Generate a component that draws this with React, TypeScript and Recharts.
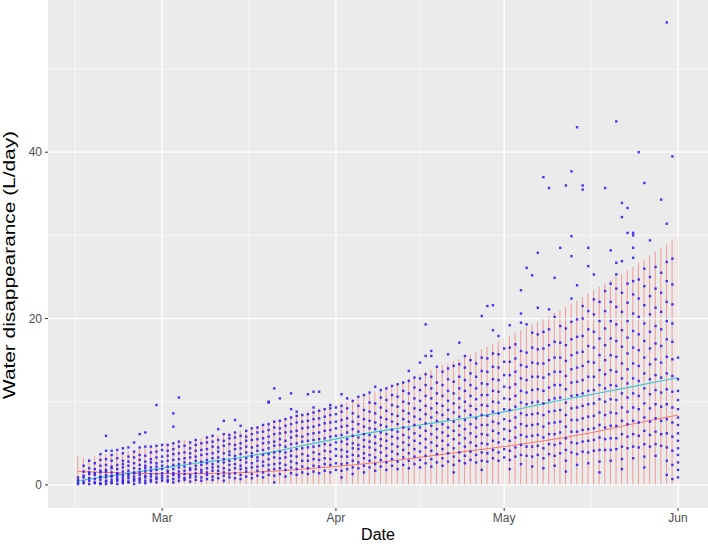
import {
  Bar,
  CartesianGrid,
  ComposedChart,
  Line,
  ReferenceLine,
  Scatter,
  XAxis,
  YAxis,
} from "recharts";

// day of year of the first measured day (Feb 14)
const firstDay = 45;

const monthTicks = [60, 91, 121, 152];
const monthLabels = ["Mar", "Apr", "May", "Jun"];
const minorDateLines = [44.5, 75.5, 106, 136.5];
const yTicks = [0, 20, 40];
const yMinorLines = [10, 30, 50];

// top of the red daily range (bottom is 0)
const upperBounds = [
  3.4, 3.3, 3.2, 3.5, 3.6, 3.7, 3.6, 3.9, 4.0, 4.1, 4.0, 4.3, 4.4, 4.5, 4.6, 4.9,
  5.0, 5.0, 5.2, 5.4, 5.3, 5.5, 5.6, 5.8, 5.9, 6.0, 6.1, 6.3, 6.4, 6.5, 6.6,
  6.8, 7.0, 7.2, 7.5, 7.6, 7.9, 8.1, 8.3, 8.4, 8.6, 8.9, 9.0, 9.2, 9.3, 9.6, 9.6,
  9.8, 10.0, 10.2, 10.5, 10.7, 11.0, 11.2, 11.5, 11.7, 12.0, 12.2, 12.5, 12.8, 13.1,
  13.3, 13.6, 13.8, 14.1, 14.4, 14.6, 14.9, 15.1, 15.4, 15.7, 16.0, 16.3, 16.6, 16.9, 17.2, 17.6,
  18.0, 18.3, 18.6, 19.0, 19.3, 19.6, 20.0, 20.3, 20.7, 21.0, 21.4, 21.8, 22.1, 22.6, 23.0,
  23.4, 23.8, 24.2, 24.6, 25.0, 25.4, 25.8, 26.2, 26.7, 27.1, 27.6, 28.0, 28.5, 28.9, 29.4, 29.9,
];

const trendDays = [0, 7, 14, 21, 28, 35, 42, 49, 56, 63, 70, 77, 84, 91, 98, 107];
const meanTrend = [0.5, 1.2, 1.9, 2.6, 3.2, 4.0, 5.0, 5.9, 6.7, 7.4, 8.1, 8.9, 9.9, 10.8, 11.7, 12.9];
const lowerTrend = [1.6, 1.45, 1.35, 1.35, 1.45, 1.65, 2.0, 2.4, 2.9, 3.5, 4.1, 4.7, 5.4, 6.2, 7.2, 8.4];

// one string of observed values per day, Feb 14 .. Jun 1
const dailyPoints = [
  "0.1 0.3 0.6 0.9",
  "0.2 0.4 0.9 1.1 1.6 2.3",
  "0.1 0.5 0.8 1.3 1.5 2.0 2.9",
  "0.2 0.3 0.7 1.2 1.4 1.9 2.6",
  "0.1 0.2 0.6 0.9 1.0 1.5 1.7 2.3 3.0 3.7",
  "0.1 0.4 0.5 0.9 1.2 1.6 1.8 2.4 3.1 4.1 5.9",
  "0.2 0.3 0.6 1.0 1.1 1.5 2.0 2.2 2.9 3.6 4.1",
  "0.1 0.5 0.7 1.0 1.3 1.4 1.9 2.4 3.2 4.2",
  "0.2 0.4 0.6 0.9 1.2 1.6 2.1 2.5 2.9 3.8 4.4",
  "0.3 0.4 0.8 1.1 1.3 1.7 2.3 2.8 3.4 4.5",
  "0.1 0.5 0.7 1.0 1.4 1.5 2.0 2.6 3.3 4.0 5.1",
  "0.3 0.6 0.8 1.2 1.5 1.9 2.4 3.0 3.6 4.5 6.1",
  "0.2 0.5 0.9 1.1 1.6 2.0 2.3 2.8 3.5 4.6 6.3",
  "0.4 0.6 1.0 1.3 1.7 2.1 2.7 3.1 3.9 4.6",
  "0.3 0.7 0.9 1.3 1.8 2.2 2.6 3.3 4.0 4.7 9.6",
  "0.5 0.8 1.1 1.4 1.9 2.3 2.8 3.4 4.2 4.8",
  "0.4 0.6 1.0 1.5 1.7 2.2 2.9 3.5 4.1 4.8",
  "0.3 0.7 1.2 1.4 1.9 2.4 3.0 3.7 4.3 5.0 7.0 8.6",
  "0.5 0.9 1.2 1.6 2.1 2.5 3.1 3.8 4.6 5.2 10.5",
  "0.6 0.8 1.3 1.7 2.2 2.7 3.2 3.9 4.7",
  "0.4 0.9 1.2 1.8 2.0 2.6 3.3 3.8 4.4 5.1",
  "0.6 1.0 1.4 1.9 2.3 2.9 3.4 4.1 4.8 5.4",
  "0.5 0.9 1.5 1.8 2.4 2.8 3.6 4.2 5.0",
  "0.7 1.2 1.5 2.0 2.6 3.0 3.7 4.3 5.1 5.7",
  "0.6 1.0 1.7 2.1 2.5 3.2 3.8 4.6 5.2 5.9",
  "0.8 1.3 1.7 2.2 2.8 3.3 4.0 4.5 5.4 6.7",
  "0.5 1.1 1.5 2.0 2.7 3.1 3.8 4.7 5.3 6.1 7.7",
  "0.9 1.3 1.8 2.4 2.9 3.6 4.0 4.9 5.6 6.0",
  "0.8 1.4 2.0 2.5 3.1 3.5 4.3 4.8 5.7 6.3 7.8",
  "0.7 1.2 1.9 2.3 3.0 3.7 4.4 5.0 5.9 7.1",
  "1.0 1.6 2.0 2.7 3.2 3.9 4.6 5.3 5.8 6.5",
  "0.8 1.3 2.1 2.6 3.4 3.8 4.5 5.4 6.1 6.8",
  "1.1 1.7 2.2 2.9 3.3 4.1 4.7 5.5 6.3 6.9",
  "0.9 1.5 2.3 2.8 3.6 4.2 5.0 5.6 6.4 7.2",
  "1.2 1.8 2.4 3.1 3.7 4.4 5.1 5.8 6.6 7.3 9.9 10.0",
  "0.3 1.1 1.9 2.5 3.3 3.9 4.7 5.2 6.1 6.9 7.6 11.6",
  "1.3 2.0 2.6 3.2 4.0 4.8 5.5 6.2 6.8 7.7 10.4",
  "1.0 1.8 2.4 3.3 3.9 4.6 5.3 6.3 7.1 7.9",
  "1.4 2.1 2.8 3.5 4.1 4.9 5.7 6.4 7.3 8.1 9.1 11.0",
  "1.2 1.9 2.6 3.4 4.3 5.0 5.9 6.5 7.5 8.3 8.8",
  "1.5 2.2 2.9 3.7 4.4 5.2 5.8 6.8 7.6 8.4",
  "1.3 2.0 2.9 3.5 4.5 5.3 6.1 6.9 7.7 8.5 10.9",
  "1.6 2.3 3.1 3.9 4.6 5.4 6.2 7.0 7.9 8.7 9.3 11.2",
  "1.4 2.2 3.0 3.7 4.7 5.5 6.3 7.2 8.0 8.9 11.2",
  "1.7 2.5 3.2 4.1 4.9 5.6 6.5 7.4 8.2 9.1",
  "1.5 2.4 3.1 4.0 4.8 5.8 6.6 7.5 8.4 9.2 9.6",
  "1.8 2.6 3.5 4.3 5.1 5.9 6.8 7.6 8.5 9.3",
  "0.9 1.7 2.5 3.4 4.2 5.2 6.0 7.0 7.8 8.8 9.5 10.9",
  "1.9 2.6 3.4 4.0 4.9 5.5 6.3 7.1 8.0 9.2 10.4",
  "1.3 2.1 2.9 3.6 4.4 5.0 5.9 6.7 7.6 8.6 10.1",
  "2.0 2.7 3.5 4.3 4.8 5.7 6.4 7.3 8.2 9.5 10.6",
  "1.5 2.3 3.2 3.8 4.6 5.4 6.1 7.0 7.9 9.0 10.8",
  "2.1 2.9 3.6 4.5 5.2 6.0 6.8 7.7 8.8 9.9 11.1",
  "1.7 2.5 3.3 4.2 5.0 5.8 6.7 7.5 8.6 9.8 11.8",
  "2.2 3.0 3.9 4.7 5.5 6.3 7.2 8.1 9.3 10.5 11.4",
  "1.8 2.7 3.5 4.4 5.3 6.1 7.0 7.9 8.9 10.2 11.6",
  "2.3 3.1 4.0 4.9 5.8 6.6 7.6 8.5 9.6 10.8 11.9",
  "1.9 2.8 3.7 4.6 5.6 6.4 7.3 8.3 9.4 10.6 12.1",
  "2.4 3.3 4.2 5.1 6.0 6.9 7.9 8.9 10.0 11.3 12.3",
  "2.0 2.9 3.8 4.8 5.7 6.7 7.6 8.6 9.8 11.0 12.5 13.7",
  "2.5 3.4 4.3 5.3 6.2 7.2 8.2 9.2 10.4 11.7 12.9",
  "2.1 3.0 4.0 5.0 5.9 6.9 7.9 9.0 10.1 11.4 12.8 14.7",
  "2.6 3.5 4.5 5.5 6.5 7.4 8.5 9.5 10.7 12.0 13.3 15.5 19.3",
  "2.2 3.1 4.1 5.1 6.1 7.1 8.1 9.2 10.4 11.6 13.0 15.5 16.1",
  "2.7 3.7 4.7 5.7 6.7 7.7 8.7 9.8 11.0 12.3 14.2",
  "2.3 3.2 4.3 5.3 6.3 7.3 8.4 9.5 10.7 12.0 13.6",
  "2.8 3.8 4.8 5.9 6.9 7.9 9.0 10.1 11.3 12.7 14.0 15.7",
  "1.5 2.4 3.4 4.4 5.5 6.5 7.6 8.7 9.8 11.0 12.4 14.3",
  "2.9 3.9 5.0 6.0 7.1 8.2 9.3 10.4 11.6 13.0 14.5 17.1",
  "2.6 3.5 4.6 5.6 6.7 7.8 8.9 10.0 11.3 12.6 14.1 15.5",
  "3.0 4.0 5.1 6.2 7.3 8.4 9.5 10.7 12.0 13.4 15.0",
  "2.7 3.6 4.7 5.8 6.9 8.0 9.1 10.3 11.6 13.0 14.6",
  "1.8 2.9 3.9 5.0 6.1 7.2 8.4 9.6 10.8 12.2 13.7 15.3 20.3",
  "2.8 3.8 4.9 6.0 7.2 8.3 9.5 10.8 12.1 13.6 15.2 21.5",
  "3.2 4.2 5.3 6.5 7.6 8.8 10.0 11.3 12.7 14.2 15.8 18.6 21.6",
  "2.9 3.9 5.1 6.2 7.4 8.6 9.9 11.2 12.6 14.1 15.7 17.9",
  "3.3 4.3 5.5 6.7 7.9 9.1 10.4 11.8 13.2 14.8 16.4",
  "1.9 3.0 4.1 5.3 6.5 7.7 9.0 10.3 11.7 13.2 14.8 16.5 19.2",
  "3.4 4.5 5.7 6.9 8.1 9.4 10.7 12.1 13.6 15.2 16.9",
  "2.5 3.6 4.8 6.0 7.3 8.6 9.9 11.3 12.8 14.4 16.1 19.5 20.6 23.4",
  "3.5 4.6 5.8 7.1 8.4 9.7 11.1 12.6 14.2 15.9 19.3 26.1",
  "2.2 3.4 4.6 5.9 7.2 8.5 9.9 11.4 13.0 14.7 16.5 18.3 25.2",
  "3.6 4.7 6.0 7.3 8.6 10.0 11.5 13.0 14.6 16.3 18.1 21.3 27.9",
  "2.0 3.2 4.4 5.7 7.0 8.4 9.8 11.3 12.9 14.6 16.4 18.4 37.0",
  "3.7 4.9 6.1 7.4 8.8 10.2 11.7 13.3 15.0 16.8 18.7 21.1 35.7",
  "2.3 3.5 4.8 6.1 7.5 8.9 10.4 12.0 13.6 15.3 17.2 20.2 24.9",
  "3.8 5.0 6.3 7.6 9.0 10.5 12.0 13.6 15.3 17.1 19.1 28.5",
  "1.6 2.9 4.2 5.6 7.0 8.4 9.9 11.5 13.1 14.9 16.8 18.8 36.0",
  "3.9 5.1 6.4 7.8 9.2 10.7 12.3 13.9 15.6 17.5 19.6 22.4 27.5 29.9 37.7",
  "2.4 3.7 5.0 6.4 7.8 9.3 10.8 12.4 14.1 15.9 17.8 19.9 24.0 43.0",
  "4.0 5.2 6.6 8.0 9.5 11.0 12.6 14.3 16.0 17.9 20.0 21.5 35.5 36.0",
  "2.6 3.9 5.3 6.7 8.2 9.7 11.3 13.0 14.8 16.7 18.7 20.9 26.3 28.5",
  "4.1 5.4 6.8 8.3 9.8 11.4 13.0 14.7 16.5 18.4 20.5 22.3 25.3",
  "1.5 2.8 4.2 5.7 7.2 8.7 10.3 12.0 13.8 15.6 17.6 19.7 22.0",
  "4.2 5.5 6.9 8.4 10.0 11.6 13.3 15.0 16.8 18.8 20.9 23.3 35.7",
  "2.9 4.2 5.6 7.1 8.7 10.3 12.0 13.8 15.6 17.6 19.7 22.0 24.2 28.2",
  "4.3 5.6 7.1 8.6 10.2 11.9 13.6 15.4 17.3 19.3 21.4 23.6 25.3 26.7 43.7",
  "1.9 3.1 4.6 6.1 7.7 9.3 11.0 12.8 14.6 16.6 18.6 20.8 23.1 26.9 32.2 33.9",
  "4.4 5.8 7.3 8.8 10.5 12.2 13.9 15.8 17.7 19.7 21.9 24.2 30.3 33.3",
  "3.2 4.6 6.1 7.7 9.3 11.0 12.8 14.6 16.5 18.5 20.6 22.9 24.5 27.3 28.5 30.0 30.3",
  "4.5 5.9 7.5 9.1 10.7 12.5 14.3 16.2 18.1 20.2 22.4 24.7 40.0",
  "2.1 3.4 4.9 6.5 8.1 9.8 11.6 13.4 15.3 17.3 19.4 21.6 23.9 26.0 36.3",
  "4.6 6.0 7.6 9.2 10.9 12.7 14.5 16.4 18.4 20.5 22.7 25.0 29.4",
  "3.5 4.9 6.4 8.0 9.7 11.4 13.2 15.1 17.0 19.1 21.3 23.6 26.2",
  "4.7 6.1 7.7 9.4 11.1 12.9 14.7 16.7 18.7 20.8 23.1 25.5 34.3",
  "1.2 2.9 4.5 6.2 7.9 9.7 11.5 13.4 15.4 17.5 19.7 22.0 24.5 26.8 31.4 55.6",
  "0.7 2.4 4.1 5.8 7.5 9.3 11.2 13.1 15.1 17.2 19.4 21.7 24.1 27.2 39.5",
  "0.9 1.8 2.7 3.6 4.4 5.3 6.2 7.2 8.1 9.1 10.2 11.3 12.7 15.3",
];

const rangeData = upperBounds.map((upper, i) => ({ day: firstDay + i, range: [0, upper] }));
const pointData = dailyPoints.flatMap((row, i) =>
  row.split(" ").map((v) => ({ day: firstDay + i, value: Number(v) })),
);
const meanData = trendDays.map((d, i) => ({ day: firstDay + d, value: meanTrend[i] }));
const lowerData = trendDays.map((d, i) => ({ day: firstDay + d, value: lowerTrend[i] }));

const fontFamily = '"Liberation Sans", Arial, Helvetica, sans-serif';

function PointShape(props: any) {
  if (props.cx == null || props.cy == null) return null;
  return (
    <rect
      x={props.cx - 1.2}
      y={props.cy - 1.2}
      width={2.4}
      height={2.4}
      fill="#2a14f0"
      fillOpacity={0.85}
    />
  );
}

function YTitle(props: any) {
  const vb = props.viewBox;
  const x = vb.x + 15;
  const y = vb.y + vb.height / 2 + 11;
  return (
    <text
      x={x}
      y={y}
      transform={`rotate(-90 ${x} ${y})`}
      textAnchor="middle"
      fontSize={16}
      fill="#000"
      textLength={268}
      lengthAdjust="spacingAndGlyphs"
    >
      Water disappearance (L/day)
    </text>
  );
}

export default function App() {
  return (
    <div style={{ position: "absolute", left: 0, top: 0, width: 708, height: 544, background: "#fff", fontFamily }}>
      <ComposedChart
        width={708}
        height={544}
        data={rangeData}
        margin={{ top: 0, right: 0, bottom: 0, left: 0 }}
      >
        <CartesianGrid fill="#EBEBEB" horizontal={false} vertical={false} />
        {yMinorLines.map((v) => (
          <ReferenceLine key={`ym${v}`} y={v} stroke="#fff" strokeWidth={0.6} />
        ))}
        {minorDateLines.map((v) => (
          <ReferenceLine key={`xm${v}`} x={v} stroke="#fff" strokeWidth={0.6} />
        ))}
        {yTicks.map((v) => (
          <ReferenceLine key={`y${v}`} y={v} stroke="#fff" strokeWidth={1.3} />
        ))}
        {monthTicks.map((v) => (
          <ReferenceLine key={`x${v}`} x={v} stroke="#fff" strokeWidth={1.3} />
        ))}
        <XAxis
          dataKey="day"
          type="number"
          domain={[39.65, 157.35]}
          allowDataOverflow
          ticks={monthTicks}
          interval={0}
          tickFormatter={(v: number) => monthLabels[monthTicks.indexOf(v)] ?? ""}
          height={36}
          axisLine={false}
          tickLine={{ stroke: "#333333" }}
          tickSize={3}
          tickMargin={2}
          tick={{ fontSize: 12, fill: "#4D4D4D" }}
          label={{ value: "Date", position: "insideBottom", offset: 4, fontSize: 16, fill: "#000" }}
        />
        <YAxis
          type="number"
          domain={[-2.78, 58.3]}
          allowDataOverflow
          ticks={yTicks}
          interval={0}
          width={48}
          axisLine={false}
          tickLine={{ stroke: "#333333" }}
          tickSize={3}
          tickMargin={3}
          tick={{ fontSize: 12, fill: "#4D4D4D" }}
          label={<YTitle />}
        />
        <Bar
          dataKey="range"
          barSize={1}
          fill="#F8766D"
          fillOpacity={0.7}
          isAnimationActive={false}
        />
        <Scatter
          data={pointData}
          dataKey="value"
          shape={PointShape}
          isAnimationActive={false}
        />
        <Line
          data={lowerData}
          dataKey="value"
          type="monotone"
          stroke="#F8766D"
          strokeWidth={1}
          dot={false}
          isAnimationActive={false}
        />
        <Line
          data={meanData}
          dataKey="value"
          type="monotone"
          stroke="#3CC8D0"
          strokeWidth={1.2}
          dot={false}
          isAnimationActive={false}
        />
      </ComposedChart>
    </div>
  );
}
